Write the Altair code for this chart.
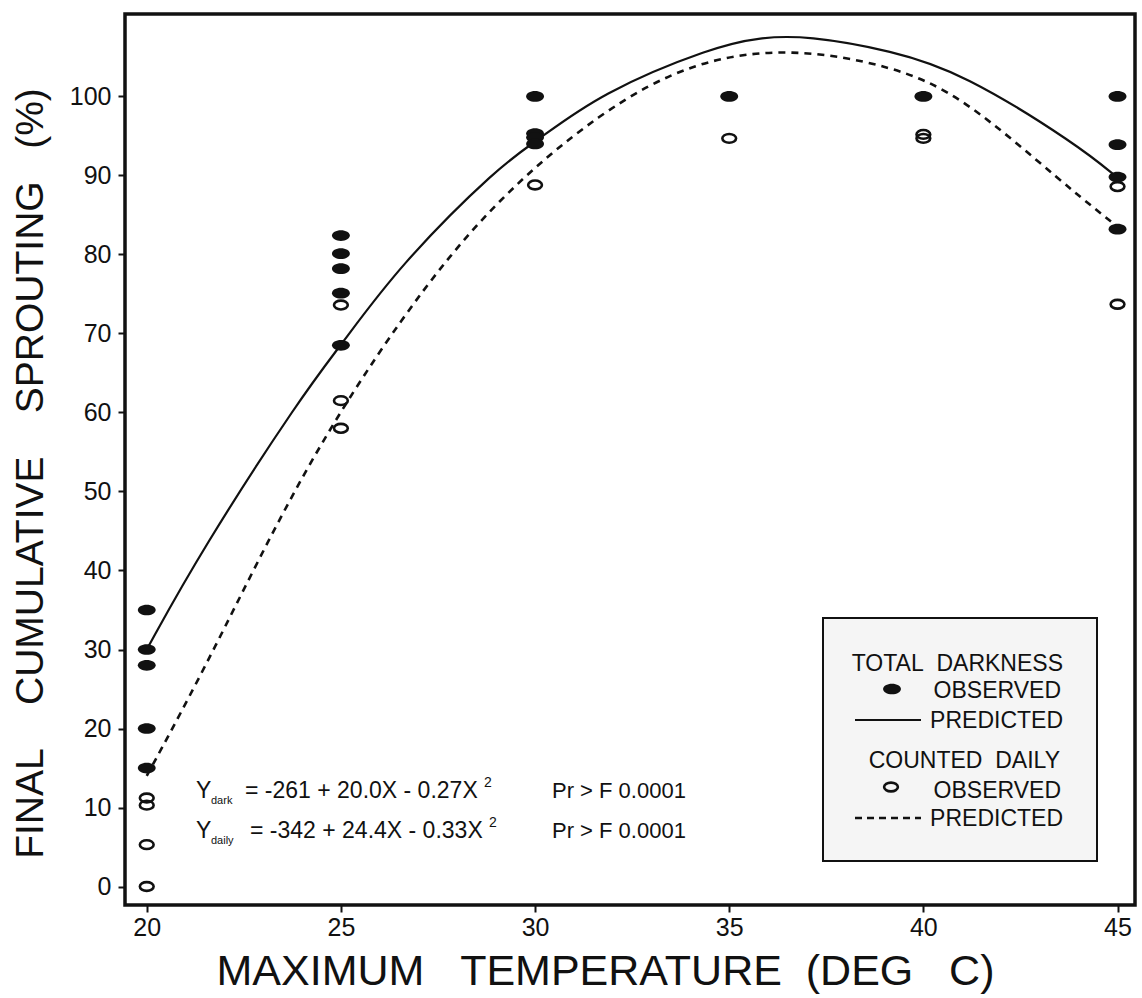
import altair as alt
import pandas as pd

# ---------------- data ----------------
dark_x = [20, 20, 20, 20, 20, 25, 25, 25, 25, 25, 30, 30, 30, 30, 35, 40, 45, 45, 45, 45]
dark_y = [35, 30, 28, 20, 15, 82.4, 80.1, 78.2, 75.1, 68.5, 100, 95.3, 94.8, 94.0, 100, 100, 100, 93.9, 89.8, 83.2]

daily_x = [20, 20, 20, 20, 25, 25, 25, 30, 35, 40, 40, 45, 45]
daily_y = [11.2, 10.3, 5.3, 0, 73.6, 61.5, 58.0, 88.8, 94.7, 95.2, 94.7, 88.6, 73.7]

dark_curve_x = [20, 21.4, 24, 25, 26.5, 29.1, 30, 31.7, 34.6, 35.8, 37, 39.2, 41, 44, 45]
dark_curve_y = [30, 42.5, 62.2, 68.5, 78.6, 91.3, 94.2, 100.5, 106.3, 107.5, 107.7, 105.8, 103.0, 93.8, 89.7]

daily_curve_x = [20, 21.65, 24, 26.6, 28.9, 31.7, 34.1, 36.6, 39.2, 41, 43.6, 45]
daily_curve_y = [14, 29, 52.7, 72.5, 86.6, 98.2, 104.6, 106.2, 103.9, 100.1, 89.0, 83.5]

x_ticks = [20, 25, 30, 35, 40, 45]
y_ticks = [0, 10, 20, 30, 40, 50, 60, 70, 80, 90, 100]

NB = "\u00a0"
x_title = "MAXIMUM" + NB * 3 + "TEMPERATURE" + NB * 2 + "(DEG" + NB * 3 + "C)"
y_title = "FINAL" + NB * 4 + "CUMULATIVE" + NB * 4 + "SPROUTING" + NB * 3 + "(%)"

eq_dark = "=" + NB + "-261" + NB + "+" + NB + "20.0X" + NB + "-" + NB + "0.27X"
eq_daily = "=" + NB + "-342" + NB + "+" + NB + "24.4X" + NB + "-" + NB + "0.33X"
pr_text = "Pr" + NB + ">" + NB + "F" + NB + "0.0001"

legend_labels = ["TOTAL" + NB * 2 + "DARKNESS", "OBSERVED", "PREDICTED",
                 "COUNTED" + NB * 2 + "DAILY", "OBSERVED", "PREDICTED"]

# ---------------- layout constants ----------------
FONT = "Liberation Sans"
INK = "#111111"
W, H = 1010, 891
XDOM = [19.44, 45.45]
YDOM = [-2.34, 110.44]

FILLED_ELLIPSE = "M-1,0 A1,0.6 0 1,0 1,0 A1,0.6 0 1,0 -1,0 Z"
OPEN_ELLIPSE = "M-1,0 A1,0.64 0 1,0 1,0 A1,0.64 0 1,0 -1,0 Z"

xs = alt.Scale(domain=XDOM, nice=False, zero=False)
ys = alt.Scale(domain=YDOM, nice=False, zero=False)

x_axis = alt.Axis(values=x_ticks, title=x_title, grid=False, domain=False,
                  tickSize=7, tickWidth=2, tickColor=INK,
                  labelFont=FONT, labelFontSize=25, labelColor=INK, labelPadding=3,
                  titleFont=FONT, titleFontSize=43, titleFontWeight="normal", titleColor=INK,
                  titleX=480, titleY=79, titleBaseline="alphabetic", titleAlign="center")
y_axis = alt.Axis(values=y_ticks, title=y_title, grid=False, domain=False,
                  tickSize=7, tickWidth=2, tickColor=INK,
                  labelFont=FONT, labelFontSize=25, labelColor=INK, labelPadding=7,
                  titleFont=FONT, titleFontSize=39, titleFontWeight="normal", titleColor=INK,
                  titleAngle=270, titleX=-95, titleY=459, titleBaseline="middle", titleAlign="center")

dark_df = pd.DataFrame({"x": dark_x, "y": dark_y})
daily_df = pd.DataFrame({"x": daily_x, "y": daily_y})
dcurve_df = pd.DataFrame({"x": dark_curve_x, "y": dark_curve_y})
ycurve_df = pd.DataFrame({"x": daily_curve_x, "y": daily_curve_y})

base_x = alt.X("x:Q", scale=xs, axis=x_axis)
base_y = alt.Y("y:Q", scale=ys, axis=y_axis)

dark_line = alt.Chart(dcurve_df).mark_line(color=INK, strokeWidth=2.2, interpolate="basis").encode(
    x=base_x, y=base_y)
daily_line = alt.Chart(ycurve_df).mark_line(color=INK, strokeWidth=2.6, strokeDash=[7, 6],
                                            interpolate="basis").encode(x=base_x, y=base_y)
daily_pts = alt.Chart(daily_df).mark_point(shape=OPEN_ELLIPSE, size=190, filled=False,
                                          stroke=INK, strokeWidth=2.6, opacity=1).encode(
    x=alt.X("x:Q", scale=xs), y=alt.Y("y:Q", scale=ys))
dark_pts = alt.Chart(dark_df).mark_point(shape=FILLED_ELLIPSE, size=320, filled=True,
                                        fill=INK, opacity=1).encode(
    x=alt.X("x:Q", scale=xs), y=alt.Y("y:Q", scale=ys))

# ---------------- annotations (pixel positions in plot area) ----------------
OX, OY = 125, 14
ann = pd.DataFrame({
    "text": ["Y", "dark", eq_dark, "2", pr_text,
             "Y", "daily", eq_daily, "2", pr_text],
    "px": [196, 211, 245, 484, 552,
           196, 211, 250, 489, 552],
    "py": [798, 804, 798, 787, 798,
           838, 844, 838, 827, 838],
    "fs": [23, 11, 23, 14, 22,
           23, 11, 23, 14, 22],
})
ann["px"] = ann["px"] - OX
ann["py"] = ann["py"] - OY
eq_text = alt.Chart(ann).mark_text(font=FONT, align="left", baseline="alphabetic", color=INK).encode(
    x=alt.X("px:Q", scale=None), y=alt.Y("py:Q", scale=None),
    size=alt.Size("fs:Q", scale=None, legend=None), text="text:N")

# legend box
box = alt.Chart(pd.DataFrame({"a": [0]})).mark_rect(fill="#f5f5f5", stroke=INK, strokeWidth=2).encode(
    x=alt.value(823 - OX), x2=alt.value(1097 - OX), y=alt.value(618 - OY), y2=alt.value(861 - OY))

leg_text_df = pd.DataFrame({
    "text": legend_labels,
    "px": [1063, 1061, 1063, 1060, 1061, 1063],
    "py": [671, 698, 728, 768, 798, 826],
})
leg_text_df["px"] = leg_text_df["px"] - OX
leg_text_df["py"] = leg_text_df["py"] - OY
leg_text = alt.Chart(leg_text_df).mark_text(font=FONT, fontSize=23, align="right", baseline="alphabetic",
                                             color=INK).encode(
    x=alt.X("px:Q", scale=None), y=alt.Y("py:Q", scale=None), text="text:N")

leg_filled = alt.Chart(pd.DataFrame({"a": [0]})).mark_point(shape=FILLED_ELLIPSE, size=320, filled=True,
                                                           fill=INK, opacity=1).encode(
    x=alt.value(892 - OX), y=alt.value(689 - OY))
leg_open = alt.Chart(pd.DataFrame({"a": [0]})).mark_point(shape=OPEN_ELLIPSE, size=190, filled=False,
                                                         stroke=INK, strokeWidth=2.6, opacity=1).encode(
    x=alt.value(891 - OX), y=alt.value(787 - OY))
leg_solid = alt.Chart(pd.DataFrame({"a": [0]})).mark_rule(color=INK, strokeWidth=2).encode(
    x=alt.value(855 - OX), x2=alt.value(921 - OX), y=alt.value(720 - OY))
leg_dash = alt.Chart(pd.DataFrame({"a": [0]})).mark_rule(color=INK, strokeWidth=2.4, strokeDash=[7, 5]).encode(
    x=alt.value(855 - OX), x2=alt.value(921 - OX), y=alt.value(818 - OY))

chart = alt.layer(
    dark_line, daily_line, daily_pts, dark_pts, eq_text,
    box, leg_text, leg_filled, leg_open, leg_solid, leg_dash
).properties(
    width=W, height=H,
    padding={"left": OX, "top": OY, "right": 1142 - OX - W, "bottom": 998 - OY - H},
    autosize=alt.AutoSizeParams(type="none"),
    background="white",
).configure_view(
    stroke=INK, strokeWidth=3.5
)

chart.save("out.html", embed_options={"renderer": "svg", "actions": False})
